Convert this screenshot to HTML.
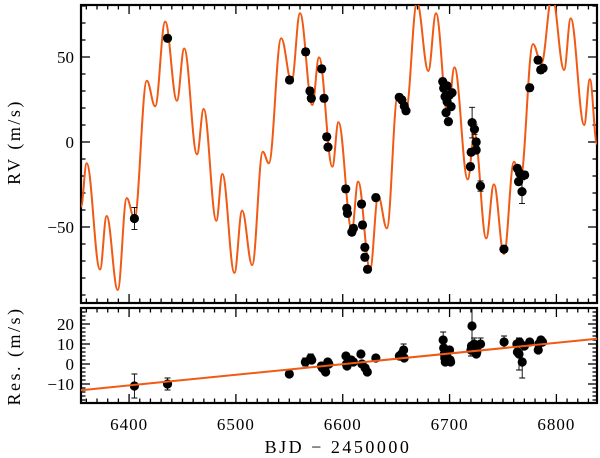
<!DOCTYPE html>
<html><head><meta charset="utf-8"><style>
html,body{margin:0;padding:0;background:#fff;}
svg{display:block;font-family:"Liberation Serif","DejaVu Serif",serif;}
</style></head><body>
<svg id="chart" width="600" height="458" viewBox="0 0 600 458" xmlns="http://www.w3.org/2000/svg">
<defs>
<clipPath id="clipTop"><rect x="81" y="5" width="516" height="298"/></clipPath>
<clipPath id="clipBot"><rect x="81" y="308" width="516" height="95"/></clipPath>
</defs>
<g id="topPanel"></g>
<g id="botPanel"></g>
<text x="0" y="0" transform="translate(20,142) rotate(-90)" text-anchor="middle" font-size="18" letter-spacing="2.5">RV (m/s)</text>
<text x="0" y="0" transform="translate(20,356) rotate(-90)" text-anchor="middle" font-size="18" letter-spacing="2.5">Res. (m/s)</text>
<text x="338" y="453" text-anchor="middle" font-size="18" letter-spacing="2.5">BJD − 2450000</text>
</svg>
<script>
// model curve extrema (time, rv)
const modelT = [6355,6360.3,6372.8,6379,6389.4,6397.8,6405,6416.6,6424.4,6433.8,6444.8,6451.6,6463.6,6469.8,6481.7,6487.3,6498.6,6505.8,6515.2,6525.2,6530.8,6542.4,6552.1,6560,6571.5,6577.8,6590.3,6596,6608.5,6614.4,6625.6,6633.2,6641.3,6651.4,6659.2,6669.5,6680.1,6687.3,6698.3,6704.6,6717,6723.3,6734.3,6741.5,6750.9,6760.3,6766.2,6778.1,6785.9,6796,6807.2,6813.4,6826,6831.3,6838];
const modelRV = [-38,-12.5,-75,-43.5,-87,-33,-45,36,21,70.8,24.3,55,-7.3,19.4,-46.3,-18.8,-77,-40.4,-72.4,-5.7,-12.5,61,35.5,75.7,21.8,49.8,-14.5,11.6,-51.8,-23.3,-74.9,-31.8,-50.8,26.7,18.8,82,41.8,75.7,15.9,43.9,-22,5.1,-56.7,-24.9,-65.9,-11.6,-22,57.6,46.3,86,42.4,72.7,10,36.9,-1];
// observations
const obsT = [6405,6436,6550.2,6565.3,6569.3,6570.6,6580.3,6582.5,6585,6586.2,6602.8,6603.8,6604.4,6608.5,6610,6617.6,6618.5,6620.7,6620.7,6623.2,6631,6652.9,6655.4,6657.6,6659.2,6693.6,6694.5,6695.8,6697.7,6699.8,6702.3,6696.7,6698.9,6701.4,6697.7,6721.1,6723.3,6720.2,6724.9,6724.9,6719.5,6728.9,6750.9,6763.4,6765.6,6764.6,6770.3,6767.8,6775,6782.8,6785.3,6787.5];
const obsRV = [-45,61,36.5,53,30,25.7,43,25.7,3,-3,-27.6,-39,-42,-53,-50.8,-36.5,-48.8,-62,-67.8,-74.9,-32.7,26.3,24.7,21.2,18.4,35.5,31.6,26.7,23.7,27.6,29,17.3,12,20.8,33,11.4,7.5,-6,0,-4.7,-14.5,-25.9,-63,-15.5,-18.4,-23.3,-19.4,-29.2,31.9,48.2,42.4,43.4];
const obsErr = [6.5,2,2,2,2,2,2,2,2,2,2,2,2,2,2,2,2,2,2,2,2,2,2,2,2,2,2,2,2,2,2,2,2,2,2,9,3,2,2,2,2,3,2,2,2,2,2,7,2,2,2,2];
// residuals
const resT = [6405,6436,6550,6565,6570,6571,6580,6581,6583,6584,6586,6587,6603,6603.5,6604,6608,6610,6617,6618,6621,6623,6631,6653,6655,6657,6657.5,6694,6694.5,6695,6695.5,6696,6697,6697.5,6700,6700.5,6701,6721,6720,6720.5,6723,6725,6725.5,6729,6751,6763,6763.5,6765,6765.5,6768,6770,6775,6783,6783.5,6785,6785.5,6787];
const resV = [-11,-10,-5,1,3,2,-1,-2,-3,-4,1,0,4,0,-1,2,1,5,0,-2,-4,3,4,5,7,3,12,8,5,3,1,6,4,7,2,1,19,7,9,10,5,6,10,11,10,6,5,11,1,9,11,7,10,11,12,11];
const resErr = [6,3,1.5,2,2,1.5,1.5,1.5,1.5,1.5,1.5,1.5,1.5,1.5,1.5,1.5,1.5,1.5,1.5,1.5,1.5,1.5,1.5,1.5,3,1.5,4,1.5,1.5,1.5,1.5,1.5,1.5,1.5,1.5,1.5,9,3,1.5,3,1.5,1.5,3,3,1.5,1.5,8,1.5,8,1.5,1.5,1.5,1.5,1.5,1.5,1.5];
// trend line (residual panel)
const trendT = [6355,6838];
const trendV = [-13.1,12.6];
const xTicks = [6400,6500,6600,6700,6800];
const rvTicks = [50,0,-50];
const resTicks = [20,10,0,-10];

const NS='http://www.w3.org/2000/svg';
const X0=81,X1=597,T0=6355,T1=6838;
const xs=t=>X0+(t-T0)/(T1-T0)*(X1-X0);
const yTop=v=>142-v*1.7;
const yBot=v=>364-v*2.0;
function mk(tag,attrs,parent){const e=document.createElementNS(NS,tag);for(const k in attrs)e.setAttribute(k,attrs[k]);parent.appendChild(e);return e;}
const topG=document.getElementById('topPanel'), botG=document.getElementById('botPanel');

function frame(g,y0,y1,yfn,vmin,vmax,minorStep,majorStep,labels,name){
  for(let t=6360;t<=T1;t+=10){
    const maj=(t%100===0), L=maj?9:4.5, x=xs(t);
    mk('line',{x1:x,x2:x,y1:y1,y2:y1-L,stroke:'#000','stroke-width':1.3},g);
    mk('line',{x1:x,x2:x,y1:y0,y2:y0+L,stroke:'#000','stroke-width':1.3},g);
  }
  for(let v=Math.ceil(vmin/minorStep)*minorStep;v<=vmax;v+=minorStep){
    const maj=Math.abs(v%majorStep)<1e-6, L=maj?9:4.5, y=yfn(v);
    mk('line',{x1:X0,x2:X0+L,y1:y,y2:y,stroke:'#000','stroke-width':1.3},g);
    mk('line',{x1:X1,x2:X1-L,y1:y,y2:y,stroke:'#000','stroke-width':1.3},g);
  }
  const r=mk('rect',{x:X0,y:y0,width:X1-X0,height:y1-y0,fill:'none',stroke:'#000','stroke-width':2.2},g);
  
  
  labels.forEach(v=>{
    const tx=mk('text',{x:74,y:yfn(v)+6,'text-anchor':'end','font-size':17},g);
    tx.textContent=v<0?'−'+Math.abs(v):String(v);
    
    
  });
}
frame(topG,5,303,yTop,-94,80,10,50,rvTicks,'rv');
frame(botG,308,403,yBot,-19,27,2,10,resTicks,'residual');
xTicks.forEach(t=>{
  const tx=mk('text',{x:xs(t),y:430,'text-anchor':'middle','font-size':17,'letter-spacing':1},botG);
  tx.textContent=String(t);
  
  
});

let d='M'+xs(modelT[0])+','+yTop(modelRV[0]);
for(let i=1;i<modelT.length;i++){
  const xa=xs(modelT[i-1]),ya=yTop(modelRV[i-1]),xb=xs(modelT[i]),yb=yTop(modelRV[i]),dx=xb-xa;
  d+=' C'+(xa+dx*0.38)+','+ya+' '+(xb-dx*0.38)+','+yb+' '+xb+','+yb;
}
const cg=mk('g',{'clip-path':'url(#clipTop)'},topG);
const curve=mk('path',{d:d,fill:'none',stroke:'#f05a14','stroke-width':2},cg);



function points(g,T,V,E,yfn,name){
  for(let i=0;i<T.length;i++){
    const x=xs(T[i]),y=yfn(V[i]),ya=yfn(V[i]+E[i]),yb=yfn(V[i]-E[i]);
    const eb=mk('path',{d:`M${x},${ya}V${yb}M${x-3},${ya}H${x+3}M${x-3},${yb}H${x+3}`,stroke:'#000','stroke-width':0.9,fill:'none'},g);
    
    
    const c=mk('circle',{cx:x,cy:y,r:4.6,fill:'#000'},g);
    
    
  }
}
points(cg,obsT,obsRV,obsErr,yTop,'rv');

const bg=mk('g',{'clip-path':'url(#clipBot)'},botG);
points(bg,resT,resV,resErr,yBot,'residual');
const tl=mk('line',{x1:xs(trendT[0]),y1:yBot(trendV[0]),x2:xs(trendT[1]),y2:yBot(trendV[1]),stroke:'#f05a14','stroke-width':2},bg);


</script>
</body></html>
